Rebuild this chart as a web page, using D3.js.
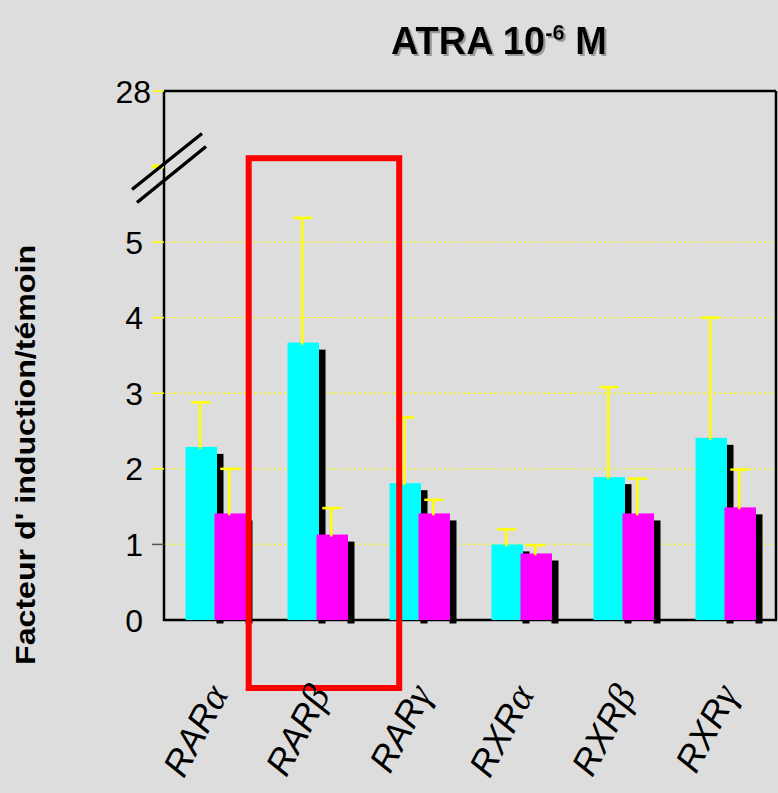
<!DOCTYPE html>
<html>
<head>
<meta charset="utf-8">
<script src="https://cdn.jsdelivr.net/npm/d3@7/dist/d3.min.js"></script>
<style>
  html, body { margin: 0; padding: 0; background: #dddddd; }
  svg { display: block; }
</style>
</head>
<body>
<script>
// ---- data ----
const categories = ["RARα", "RARβ", "RARγ", "RXRα", "RXRβ", "RXRγ"];
const cyanValues = [2.29, 3.67, 1.81, 1.00, 1.89, 2.41];
const cyanErrors = [0.59, 1.65, 0.87, 0.20, 1.19, 1.59];
const magentaValues = [1.41, 1.13, 1.41, 0.88, 1.41, 1.49];
const magentaErrors = [0.59, 0.35, 0.18, 0.11, 0.46, 0.50];
const yTickValues = [0, 1, 2, 3, 4, 5];
const yBreakValue = 6;
const yTopValue = 28;
const gridValues = [1, 2, 3, 4, 5];
const highlighted = ["RARβ", "RARγ"];
const titleMain = "ATRA 10";
const titleSup = "-6";
const titleEnd = " M";
const yLabel = "Facteur d' induction/témoin";

const W = 778, H = 793;
const pLeft = 164, pRight = 776, pTop = 91, pBottom = 620;

const svg = d3.select("body").append("svg").attr("width", W).attr("height", H);
const defs = svg.append("defs");
const f = defs.append("filter").attr("id", "tshadow").attr("x", "-10%").attr("y", "-20%").attr("width", "130%").attr("height", "150%");
f.append("feDropShadow").attr("dx", 2).attr("dy", 2).attr("stdDeviation", 0.6)
  .attr("flood-color", "#999999").attr("flood-opacity", 1);

svg.append("rect").attr("width", W).attr("height", H).attr("fill", "#dddddd");

const x = d3.scaleBand().domain(categories).range([pLeft, pRight]).padding(0);
const y = d3.scaleLinear().domain([0, yBreakValue, yTopValue]).range([pBottom, 166.5, pTop]);

// gridlines
svg.append("g").selectAll("line").data(gridValues).join("line")
  .attr("x1", pLeft).attr("x2", pRight)
  .attr("y1", d => y(d)).attr("y2", d => y(d))
  .attr("stroke", "#ffff00").attr("stroke-width", 1.3).attr("stroke-dasharray", "2,3");

// frame
const frame = svg.append("g").attr("stroke", "#000").attr("stroke-width", 2.5).attr("fill", "none");
frame.append("line").attr("x1", pLeft).attr("x2", pRight).attr("y1", pTop).attr("y2", pTop);
frame.append("line").attr("x1", pRight).attr("x2", pRight).attr("y1", pTop).attr("y2", pBottom);
frame.append("line").attr("x1", pLeft).attr("x2", pLeft).attr("y1", pTop).attr("y2", pBottom + 1);
frame.append("line").attr("x1", pLeft - 1).attr("x2", pRight + 1).attr("y1", pBottom).attr("y2", pBottom);

// y ticks
const tickG = svg.append("g");
tickG.selectAll("line.t").data(yTickValues.concat([yTopValue])).join("line")
  .attr("class", "t")
  .attr("x1", 152).attr("x2", pLeft)
  .attr("y1", d => y(d)).attr("y2", d => y(d))
  .attr("stroke", d => d === 1 ? "#555555" : "#ffff00")
  .attr("stroke-width", d => d === 0 ? 0 : 1.5);
tickG.append("line").attr("x1", 152).attr("x2", pLeft)
  .attr("y1", y(yBreakValue)).attr("y2", y(yBreakValue))
  .attr("stroke", "#ffff00").attr("stroke-width", 4);
tickG.selectAll("text.l").data(yTickValues).join("text")
  .attr("class", "l")
  .attr("x", 143).attr("y", d => y(d) + 11.5)
  .attr("text-anchor", "end")
  .attr("font-family", "Liberation Sans, Arial, sans-serif")
  .attr("font-size", 32)
  .attr("fill", "#000")
  .text(d => d);
tickG.append("text")
  .attr("x", 151).attr("y", y(yTopValue) + 11.5)
  .attr("text-anchor", "end")
  .attr("font-family", "Liberation Sans, Arial, sans-serif")
  .attr("font-size", 32)
  .text(yTopValue);

// axis break marks
const brk = svg.append("g").attr("stroke", "#000").attr("stroke-width", 3.5).attr("stroke-linecap", "butt");
const by = y(yBreakValue);
brk.append("line").attr("x1", pLeft - 32).attr("y1", by + 23).attr("x2", pLeft + 38).attr("y2", by - 33);
brk.append("line").attr("x1", pLeft - 27).attr("y1", by + 36).attr("x2", pLeft + 42).attr("y2", by - 20);

// bars
const barW = 31.5;
const series = [
  { values: cyanValues, errors: cyanErrors, color: "#00ffff", off: 21.5 },
  { values: magentaValues, errors: magentaErrors, color: "#ff00ff", off: 50.5 }
];
const barsG = svg.append("g");
series.forEach(s => {
  const g = barsG.append("g");
  g.selectAll("rect.sh").data(categories).join("rect")
    .attr("class", "sh")
    .attr("x", (c) => x(c) + s.off + barW - 0.5)
    .attr("y", (c, i) => y(s.values[i]) + 7)
    .attr("width", 7)
    .attr("height", (c, i) => pBottom + 3.5 - (y(s.values[i]) + 7))
    .attr("fill", "#000");
  g.selectAll("rect.b").data(categories).join("rect")
    .attr("class", "b")
    .attr("x", c => x(c) + s.off)
    .attr("y", (c, i) => y(s.values[i]))
    .attr("width", barW)
    .attr("height", (c, i) => pBottom - y(s.values[i]))
    .attr("fill", s.color);
});
// error bars
series.forEach(s => {
  const g = barsG.append("g").attr("stroke", "#ffff00").attr("stroke-width", 2.5);
  g.selectAll("line.v").data(categories).join("line")
    .attr("x1", c => x(c) + s.off + barW / 2 - 1)
    .attr("x2", c => x(c) + s.off + barW / 2 - 1)
    .attr("y1", (c, i) => y(s.values[i]) + 2)
    .attr("y2", (c, i) => y(s.values[i] + s.errors[i]));
  g.selectAll("line.c").data(categories).join("line")
    .attr("x1", c => x(c) + s.off + barW / 2 - 10)
    .attr("x2", c => x(c) + s.off + barW / 2 + 9)
    .attr("y1", (c, i) => y(s.values[i] + s.errors[i]))
    .attr("y2", (c, i) => y(s.values[i] + s.errors[i]));
});

// red highlight box
const rx1 = x(highlighted[0]) - 17.3;
const rx2 = x(highlighted[1]) + 31.2;
svg.append("rect")
  .attr("x", rx1).attr("y", 158.2)
  .attr("width", rx2 - rx1).attr("height", 688 - 158.2)
  .attr("fill", "none").attr("stroke", "#ff0000").attr("stroke-width", 6);

// category labels
const labG = svg.append("g");
categories.forEach(c => {
  const px = x(c) + x.bandwidth() / 2 + 14;
  const py = 694;
  const t = labG.append("text")
    .attr("transform", `translate(${px},${py}) rotate(-62)`)
    .attr("text-anchor", "end")
    .attr("font-size", 36)
    .attr("fill", "#000");
  t.append("tspan").attr("font-family", "Liberation Sans, Arial, sans-serif").attr("font-style", "italic")
    .text(c.slice(0, 3));
  t.append("tspan").attr("font-family", "Liberation Serif, Times New Roman, serif").attr("font-style", "italic")
    .attr("font-size", 39)
    .text(c.slice(3));
});

// title with shadow
const tt = svg.append("text")
  .attr("x", 391).attr("y", 54)
  .attr("font-family", "Liberation Sans, Arial, sans-serif")
  .attr("font-weight", "bold").attr("font-size", 38)
  .attr("fill", "#000")
  .attr("filter", "url(#tshadow)");
tt.append("tspan").text(titleMain);
tt.append("tspan").attr("font-size", 22).attr("dy", -14).text(titleSup);
tt.append("tspan").attr("dy", 14).text(titleEnd);

// y label
svg.append("text")
  .attr("transform", "translate(35,455) rotate(-90)")
  .attr("text-anchor", "middle")
  .attr("font-family", "Liberation Sans, Arial, sans-serif")
  .attr("font-weight", "bold").attr("font-size", 28)
  .attr("textLength", 420).attr("lengthAdjust", "spacingAndGlyphs")
  .text(yLabel);
</script>
</body>
</html>
